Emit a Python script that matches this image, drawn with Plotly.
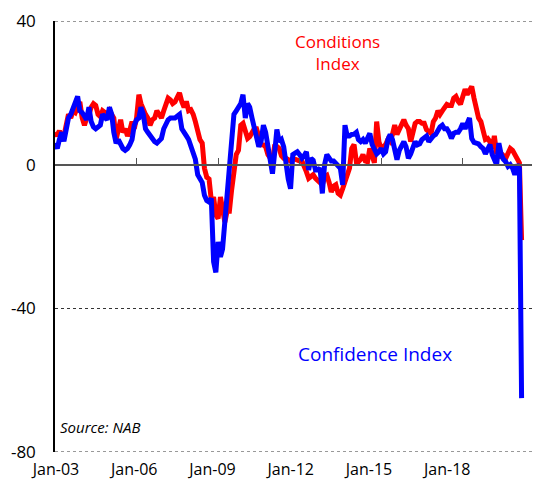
import plotly.graph_objects as go
import pandas as pd

# Monthly NAB survey readings, Jan 2003 - Mar 2020
START = "2003-01-01"
CONDITIONS = [
    9, 8, 9.5, 7, 8, 11, 14, 13, 15, 14.5, 16, 17.5,            # 2003
    13, 11, 13, 14, 16, 17, 16.5, 14, 13.4, 15, 14.5, 14,       # 2004
    15, 14, 13, 7, 10, 12.5, 9, 10, 8, 9.5, 12, 10,             # 2005
    13, 19.5, 17, 15, 14, 13, 11, 12.5, 13, 15, 14, 13,         # 2006
    15, 17.6, 18.5, 18, 17, 17.5, 19, 20, 17.5, 16, 17.6, 15,   # 2007
    15.3, 14, 12, 9, 7, 6, -1, -3.5, -4, -10, -9, -14,          # 2008
    -15, -9, -12, -16, -13, -13, -7, -1, 2.8, 4, 11, 11.5,      # 2009
    9, 7.3, 7.8, 9, 10, 10, 7.8, 5.6, 5.5, 5, 2.8, 2,           # 2010
    1, 5.6, 5, 4.5, 2.5, 1.8, 1.8, 1.2, 1, 1.8, 1.5, 1,         # 2011
    1, 1, -1, -2, -3.8, -3.3, -2.8, -3.8, -4.3, -4.8, -5.6, -3.4,  # 2012
    -3, -5, -7.6, -6, -5.6, -8, -8.5, -6.7, -5, -3, -1, 4.5,    # 2013
    5.6, 0.8, 0.8, 1.5, 2.8, 1, 0.8, 4.5, 1.8, 0.5, 12, 6.4,    # 2014
    4.5, 5, 5.6, 7, 6.4, 8.4, 11, 8.4, 10, 11, 12.5, 11,        # 2015
    10, 6.4, 9, 11.5, 12, 12, 11.5, 11.5, 9.7, 9, 8.7, 12,      # 2016
    13, 15, 14, 15, 15.7, 16.8, 16.5, 16.5, 18.5, 19, 17.6, 16.8,  # 2017
    19, 21, 19.5, 21, 21.8, 18.5, 15.7, 13, 12, 9, 7, 7.3,      # 2018
    6.4, 4.5, 8, 3, 4.5, 1.8, 2.5, 1.8, 3.6, 4.5, 4, 2.8,       # 2019
    1.5, 0.5, -21,                                              # 2020
]
CONFIDENCE = [
    6, 4.5, 7, 9, 6.5, 10, 13, 14, 16, 17, 19, 15,              # 2003
    14.5, 13.5, 12.5, 16, 12, 10.5, 10, 10.5, 11, 14, 13, 12.5, # 2004
    16, 14, 9, 6, 7, 5.5, 4.5, 4, 4.5, 5.5, 7, 11,              # 2005
    12.5, 13, 16, 14, 10, 9, 8, 7, 6.4, 6, 6.5, 7.3,            # 2006
    10, 11.5, 12.5, 13, 13, 13, 13.5, 14, 10, 8.6, 8, 7,        # 2007
    5, 3, 1.5, -2.8, -4, -5, -8.5, -10, -10.4, -9.4, -27, -30,  # 2008
    -21.5, -25.7, -23.5, -15, -7, 1, 8, 14, 15, 16, 17, 19.5,   # 2009
    13, 17, 16, 13, 10.5, 8.4, 5, 6.5, 11, 9, 5, 0,             # 2010
    -2.5, 3.6, 9.8, 6.4, 7, 5, 0, -4, -6.7, 2.8, 3.2, 3.6,      # 2011
    2.8, 1.8, 2.5, 3.6, -1.5, 1.8, 1.2, -1.5, -1.5, -1, -8, 0,  # 2012
    2.8, 1.8, 1, 1, 0.4, -0.5, -1, -5.6, 11, 8, 8, 8.4,         # 2013
    8.5, 9, 7, 6.4, 7, 6, 7.5, 8.7, 5.6, 4, 3, 3.6,             # 2014
    4.5, 3, 3.6, 7, 8.4, 7, 4, 1.4, 4, 5.6, 6.4, 5,             # 2015
    1.8, 3, 5, 6.4, 5.5, 5.8, 7, 7.5, 8, 6.4, 7.3, 8,           # 2016
    8.4, 9.7, 10.5, 11, 10, 10, 9, 7.3, 8.7, 9, 9, 10,          # 2017
    11.5, 10, 12, 13, 7.3, 6.2, 6, 5.8, 5, 4.5, 3, 4.5,         # 2018
    5.6, 2.8, 1, 0, 6, 2.8, 1.5, 0.8, -0.5, 0, -1, -2.8,        # 2019
    0, -1, -65,                                                 # 2020
]
TICK_LABELS = ["Jan-03", "Jan-06", "Jan-09", "Jan-12", "Jan-15", "Jan-18"]
TICK_MONTHS = [0, 36, 72, 108, 144, 180]
TICK_DATES = ["2003-01-01", "2006-01-01", "2009-01-01", "2012-01-01",
              "2015-01-01", "2018-01-01", "2021-01-01"]
Y_TICKS = [-80, -40, 0, 40]
Y_TICK_TEXT = ["-80", "-40", "0", "40"]
Y_RANGE = [-80, 40]

dates = pd.date_range(START, periods=len(CONDITIONS), freq="MS")
FONT = "'Open Sans', Lato, sans-serif"

fig = go.Figure()
# invisible carrier so the label axis is rendered
fig.add_trace(go.Scatter(x=TICK_MONTHS, y=[None] * len(TICK_MONTHS), mode="lines",
                         xaxis="x", yaxis="y", hoverinfo="skip", showlegend=False))
fig.add_trace(go.Scatter(x=dates, y=CONDITIONS, mode="lines", xaxis="x2", yaxis="y",
                         line=dict(color="#FF0000", width=5), name="Conditions Index"))
fig.add_trace(go.Scatter(x=dates, y=CONFIDENCE, mode="lines", xaxis="x2", yaxis="y",
                         line=dict(color="#0000FF", width=5), name="Confidence Index"))

# dotted border lines at the top and bottom of the value range
shapes = [dict(type="line", xref="paper", yref="y", x0=0, x1=1, y0=v, y1=v,
               line=dict(color="#333333", width=1, dash="dot"), layer="below")
          for v in (Y_RANGE[0], Y_RANGE[1])]

fig.update_layout(
    width=532, height=473,
    margin=dict(l=47, r=1, t=12, b=24),
    paper_bgcolor="white", plot_bgcolor="white",
    showlegend=False,
    font=dict(family=FONT, size=16, color="#000000"),
    shapes=shapes,
    xaxis=dict(
        type="linear", range=[-0.46, 222.2], anchor="y",
        tickmode="array", tickvals=TICK_MONTHS, ticktext=TICK_LABELS,
        showgrid=False, showline=False, zeroline=False, ticks="",
        ticklabelstandoff=6,
        tickfont=dict(family=FONT, size=16, color="#000000"),
    ),
    xaxis2=dict(
        type="date", overlaying="x", anchor="free", position=0.6667, side="bottom",
        range=["2003-01-01", "2020-10-21"],
        tickmode="array", tickvals=TICK_DATES, showticklabels=False,
        ticks="inside", ticklen=6, tickwidth=1.2, tickcolor="#555555",
        showline=True, linecolor="#555555", linewidth=1.6,
        showgrid=False, zeroline=False,
    ),
    yaxis=dict(
        range=Y_RANGE, tickmode="array", tickvals=Y_TICKS, ticktext=Y_TICK_TEXT,
        showgrid=True, gridcolor="#333333", gridwidth=1, griddash="dot",
        showline=True, linecolor="#000000", linewidth=1.5,
        zeroline=False, ticks="", ticklabelstandoff=14, ticklabeloverflow="allow",
        tickfont=dict(family=FONT, size=17, color="#000000"),
    ),
    annotations=[
        dict(text="Conditions<br>Index", x=0.676, y=31.3, xref="paper", yref="y",
             showarrow=False, font=dict(family=FONT, size=17, color="#FF0000"),
             align="center"),
        dict(text="Confidence Index", x=0.662, y=-52.6, xref="paper", yref="y",
             showarrow=False, font=dict(family=FONT, size=19, color="#0000FF")),
        dict(text="<i>Source: NAB</i>", x=0.006, y=-73, xref="paper", yref="y",
             xanchor="left", showarrow=False,
             font=dict(family=FONT, size=15, color="#000000")),
    ],
)

fig.write_html("out.html")
